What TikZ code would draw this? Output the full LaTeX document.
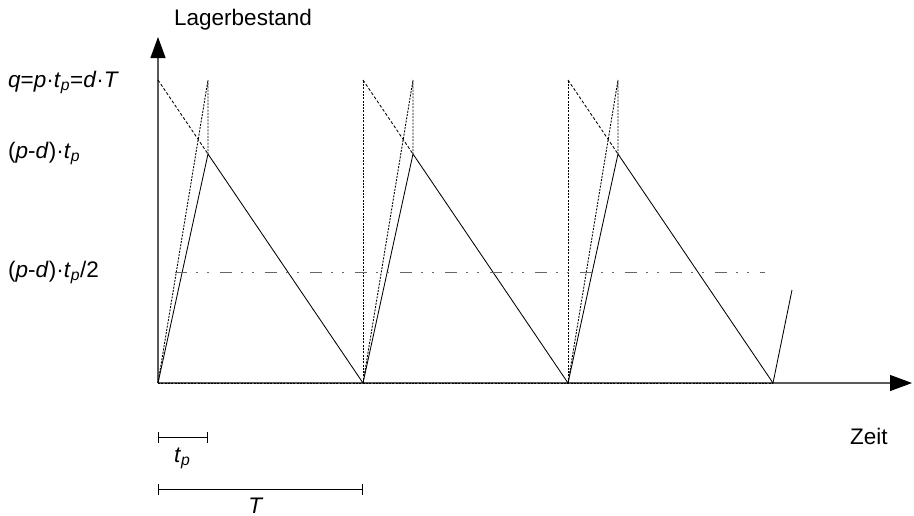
\documentclass[tikz,border=0pt]{standalone}
\usepackage{fontspec}
\setmainfont{Liberation Sans}
\usetikzlibrary{arrows.meta}
\newcommand{\vi}[1]{\textit{#1}}
\newcommand{\vsub}[2]{\textit{#1}\textsubscript{\textit{#2}}}
\begin{document}
\begin{tikzpicture}[x=1pt,y=-1pt,
  every node/.style={font=\fontsize{22.5}{26}\selectfont, inner sep=0pt},
  axisline/.style={draw=black!65, line width=1.1pt},
  solidline/.style={draw=black, line width=0.85pt},
  dotline/.style={draw=black, line width=0.9pt, dash pattern=on 2pt off 1.3pt},
  dashline/.style={draw=black, line width=0.85pt, dash pattern=on 3pt off 2pt},
  meanline/.style={draw=black!60, line width=1pt, dash pattern=on 12pt off 9pt on 2pt off 9pt on 2pt off 11pt},
  scalebar/.style={draw=black, line width=0.9pt, {Bar[width=11pt]}-{Bar[width=11pt]}}]
\useasboundingbox (0,0) rectangle (914,515);
% key points
\coordinate (O) at (158,383);
\coordinate (Ytip) at (158,37);
\coordinate (Xtip) at (912,383);
\coordinate (E) at (773,383);
% axes
\draw[axisline, -{Triangle[length=21pt,width=15pt,color=black]}] (O) -- (Ytip);
\draw[axisline, -{Triangle[length=22pt,width=16pt,color=black]}] (O) -- (Xtip);
\draw[dotline] (O) -- (E);
% cycles
\foreach \i in {0,1,2}{
  \pgfmathsetmacro{\xo}{158+205*\i}
  \coordinate (S\i) at (\xo,383);
  \coordinate (Q\i) at (\xo,80);
  \coordinate (P\i) at (\xo+50,154);
  \coordinate (R\i) at (\xo+50,80);
  \coordinate (Z\i) at (\xo+205,383);
  \draw[solidline] (S\i) -- (P\i) -- (Z\i);
  \draw[dotline] (S\i) -- (R\i) -- (P\i);
  \draw[dashline] (Q\i) -- (P\i);
}
\draw[dotline] (S1) -- (Q1);
\draw[dotline] (S2) -- (Q2);
\coordinate (F) at (792,290);
\draw[solidline] (E) -- (F);
% mean level
\coordinate (M1) at (175,272);
\coordinate (M2) at (765,272);
\draw[meanline] (M1) -- (M2);
% labels
\node[anchor=base west] (ylab) at (174,25) {Lagerbestand};
\node[anchor=base west] (xlab) at (850,444) {Zeit};
\node[anchor=base west] (lq) at (8,87) {\vi{q}=\vi{p}·\vsub{t}{p}=\vi{d}·\vi{T}};
\node[anchor=base west] (lpd) at (8,158) {(\vi{p}-\vi{d})·\vsub{t}{p}};
\node[anchor=base west] (lpd2) at (8,277) {(\vi{p}-\vi{d})·\vsub{t}{p}/2};
% scale bars
\coordinate (B1a) at (158,437);
\coordinate (B1b) at (208,437);
\coordinate (B2a) at (158,489);
\coordinate (B2b) at (363,489);
\draw[scalebar] (B1a) -- (B1b);
\draw[scalebar] (B2a) -- (B2b);
\node[anchor=base west] (ltp) at (174,462) {\vsub{t}{p}};
\node[anchor=base] (lT) at (256,513) {\vi{T}};
\end{tikzpicture}
\end{document}
